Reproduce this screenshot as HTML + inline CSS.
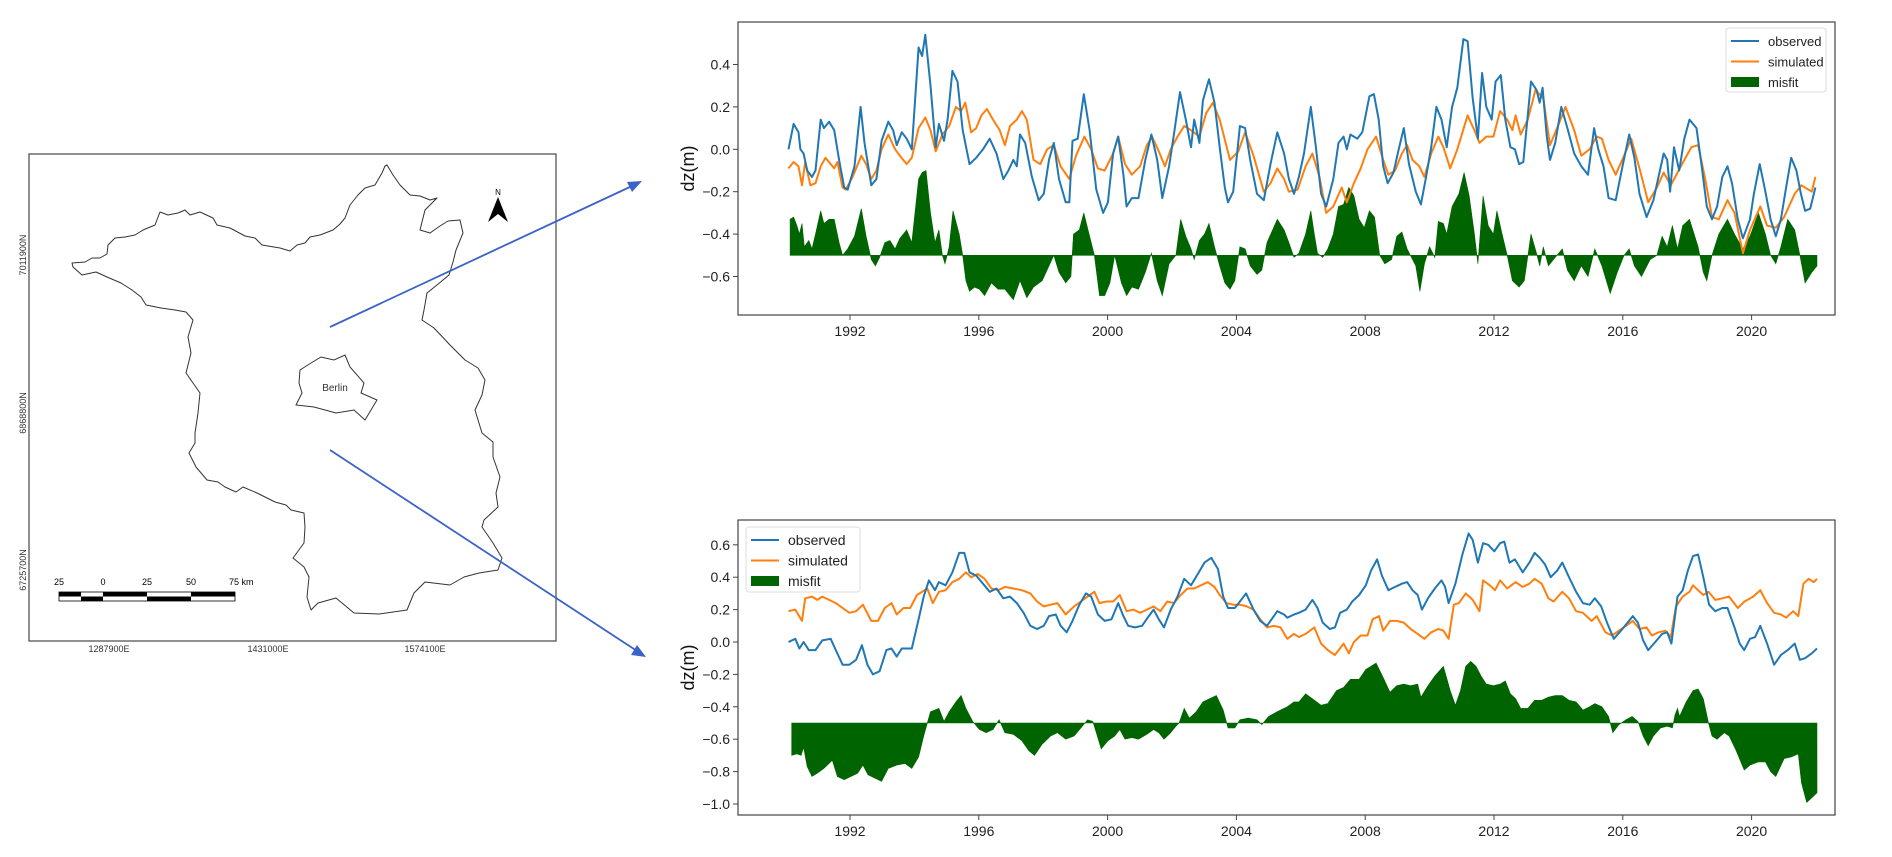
<!DOCTYPE html>
<html><head><meta charset="utf-8"><title>Brandenburg dz comparison</title>
<style>
html,body{margin:0;padding:0;background:#fff;}
svg{display:block;font-family:"Liberation Sans",sans-serif;}
</style></head>
<body>
<svg id="fig" width="1892" height="857" viewBox="0 0 1892 857" xmlns="http://www.w3.org/2000/svg">
  <rect width="1892" height="857" fill="#fff"/>
  <g>
    <rect x="29" y="154" width="527" height="487" fill="none" stroke="#555" stroke-width="1.3"/>
    <polygon fill="none" stroke="#333" stroke-width="1" stroke-linejoin="round"
      points="72,263 85,262 92,258 100,258 107,254 108,245 115,238 125,237 135,235 143,230 155,225 160,212 168,215 178,213 185,210 190,215 200,212 213,218 217,225 230,228 245,236 255,238 262,245 280,248 290,251 297,245 305,243 310,237 320,235 333,230 340,224 345,218 350,205 358,195 365,188 375,185 382,173 385,166 387,165 393,175 400,185 410,195 420,196 430,200 437,198 425,210 420,230 430,233 440,226 448,221 460,220 463,233 456,250 453,262 449,275 437,285 427,293 424,310 422,320 434,328 450,345 465,360 478,368 485,380 482,395 475,410 482,433 493,442 493,457 500,477 496,493 498,507 484,520 482,527 493,543 502,558 498,570 479,573 464,577 450,585 425,582 414,593 407,610 379,614 354,613 336,598 318,603 311,610 307,597 309,577 304,567 293,558 304,543 305,527 304,513 291,510 286,505 275,502 257,493 243,487 236,492 225,487 218,482 207,480 196,467 189,453 195,443 195,433 198,413 200,393 193,383 186,373 191,353 188,337 193,320 186,312 175,310 161,308 146,305 141,297 132,290 121,283 107,277 96,272 82,275 73,267"/>
    <polygon fill="none" stroke="#333" stroke-width="1"
      points="300,370 311,363 321,357 334,360 345,355 350,367 364,383 361,393 377,400 371,410 365,420 354,410 336,413 314,407 296,405 302,393 299,383"/>
    <text x="335" y="391" font-size="10" text-anchor="middle" fill="#333">Berlin</text>
    <g>
      <text x="498" y="195" font-size="8" text-anchor="middle" fill="#000">N</text>
      <polygon points="498,197 488,222 498,214 508,222" fill="#000"/>
    </g>
    <text transform="translate(26,255) rotate(-90)" font-size="9" text-anchor="middle" fill="#333">7011900N</text>
    <text transform="translate(26,413) rotate(-90)" font-size="9" text-anchor="middle" fill="#333">6868800N</text>
    <text transform="translate(26,570) rotate(-90)" font-size="9" text-anchor="middle" fill="#333">6725700N</text>
    <text x="109" y="652" font-size="9" text-anchor="middle" fill="#333">1287900E</text>
    <text x="268" y="652" font-size="9" text-anchor="middle" fill="#333">1431000E</text>
    <text x="425" y="652" font-size="9" text-anchor="middle" fill="#333">1574100E</text>
    <g>
      <rect x="59" y="592" width="176" height="9" fill="#fff" stroke="#000" stroke-width="0.8"/>
      <rect x="59" y="592" width="22" height="4.5" fill="#000"/>
      <rect x="81" y="596.5" width="22" height="4.5" fill="#000"/>
      <rect x="103" y="592" width="44" height="4.5" fill="#000"/>
      <rect x="147" y="596.5" width="44" height="4.5" fill="#000"/>
      <rect x="191" y="592" width="44" height="4.5" fill="#000"/>
      <text x="59" y="585" font-size="9" text-anchor="middle" fill="#000">25</text>
      <text x="103" y="585" font-size="9" text-anchor="middle" fill="#000">0</text>
      <text x="147" y="585" font-size="9" text-anchor="middle" fill="#000">25</text>
      <text x="191" y="585" font-size="9" text-anchor="middle" fill="#000">50</text>
      <text x="229" y="585" font-size="9" fill="#000">75 km</text>
    </g>
  </g>
  <g>
    <line x1="330" y1="327" x2="632" y2="186" stroke="#3a62c7" stroke-width="1.8"/>
    <polygon points="642,181 627,182 632,192" fill="#3a62c7"/>
    <line x1="330" y1="450" x2="637" y2="651" stroke="#3a62c7" stroke-width="1.8"/>
    <polygon points="646,657 637,645 631,655" fill="#3a62c7"/>
  </g>
  <g id="chartTop"></g>
  <g id="chartBot"></g>
</svg>
<script>
const topObsT = [1990.09,1990.25,1990.40,1990.46,1990.56,1990.67,1990.82,1990.93,1991.09,1991.19,1991.35,1991.51,1991.66,1991.82,1991.93,1992.14,1992.33,1992.45,1992.66,1992.82,1992.98,1993.19,1993.34,1993.45,1993.61,1993.76,1993.92,1994.13,1994.24,1994.34,1994.50,1994.66,1994.76,1994.92,1995.03,1995.18,1995.34,1995.50,1995.71,1995.92,1996.13,1996.34,1996.55,1996.76,1996.92,1997.07,1997.18,1997.28,1997.44,1997.65,1997.86,1998.02,1998.18,1998.33,1998.49,1998.70,1998.81,1998.91,1999.07,1999.26,1999.44,1999.65,1999.86,2000.01,2000.17,2000.33,2000.49,2000.59,2000.75,2000.96,2001.17,2001.36,2001.54,2001.70,2001.91,2002.06,2002.25,2002.43,2002.59,2002.69,2002.85,2002.96,2003.15,2003.32,2003.48,2003.64,2003.74,2003.90,2004.11,2004.27,2004.43,2004.64,2004.85,2005.06,2005.27,2005.48,2005.63,2005.79,2005.94,2006.10,2006.31,2006.47,2006.63,2006.79,2007.01,2007.17,2007.33,2007.43,2007.54,2007.75,2007.91,2008.13,2008.27,2008.42,2008.56,2008.70,2008.88,2009.04,2009.20,2009.36,2009.57,2009.73,2009.89,2010.05,2010.21,2010.37,2010.53,2010.70,2010.86,2011.05,2011.18,2011.34,2011.50,2011.63,2011.76,2011.93,2012.05,2012.21,2012.35,2012.51,2012.65,2012.78,2012.91,2013.15,2013.32,2013.42,2013.51,2013.64,2013.74,2013.90,2014.09,2014.28,2014.49,2014.71,2014.92,2015.11,2015.24,2015.40,2015.56,2015.78,2015.99,2016.20,2016.36,2016.52,2016.74,2016.95,2017.11,2017.27,2017.38,2017.47,2017.59,2017.75,2017.91,2018.07,2018.29,2018.45,2018.61,2018.77,2018.93,2019.09,2019.25,2019.39,2019.57,2019.73,2019.95,2020.07,2020.25,2020.43,2020.59,2020.75,2020.91,2021.07,2021.23,2021.39,2021.53,2021.66,2021.82,2021.98];
const topObsV = [0.00,0.12,0.08,0.00,-0.02,-0.10,-0.13,-0.10,0.14,0.10,0.13,0.09,-0.05,-0.18,-0.19,-0.08,0.20,0.03,-0.17,-0.14,0.04,0.13,0.09,0.02,0.08,0.05,0.00,0.48,0.44,0.54,0.30,0.01,0.12,0.04,0.14,0.37,0.32,0.09,-0.07,-0.04,0.00,0.05,-0.02,-0.14,-0.10,-0.05,-0.08,0.07,0.03,-0.13,-0.24,-0.21,-0.05,0.03,-0.14,-0.25,-0.25,0.04,0.05,0.26,0.09,-0.19,-0.30,-0.25,-0.02,0.06,-0.12,-0.27,-0.23,-0.23,-0.05,0.07,-0.05,-0.23,-0.08,0.07,0.27,0.14,0.01,0.14,0.03,0.23,0.33,0.22,0.01,-0.18,-0.25,-0.20,0.11,0.10,-0.05,-0.21,-0.24,-0.07,0.08,-0.02,-0.14,-0.21,-0.13,-0.02,0.20,0.01,-0.21,-0.27,-0.14,0.03,0.06,0.00,0.07,0.05,0.08,0.25,0.26,0.14,-0.08,-0.16,-0.11,0.00,0.10,-0.07,-0.20,-0.26,-0.13,0.01,0.20,0.14,0.01,0.20,0.29,0.52,0.51,0.24,0.05,0.36,0.20,0.14,0.32,0.35,0.14,0.01,0.00,-0.07,-0.06,0.32,0.28,0.22,0.29,0.06,-0.05,0.03,0.20,0.10,-0.02,-0.08,-0.12,0.10,0.00,-0.08,-0.23,-0.24,-0.08,0.07,-0.04,-0.21,-0.32,-0.24,-0.13,-0.02,-0.05,-0.20,0.01,-0.10,0.05,0.14,0.10,-0.08,-0.27,-0.33,-0.27,-0.13,-0.08,-0.16,-0.33,-0.42,-0.33,-0.21,-0.07,-0.20,-0.33,-0.41,-0.33,-0.18,-0.04,-0.10,-0.21,-0.29,-0.28,-0.18];
const topSimT = [1990.09,1990.25,1990.40,1990.51,1990.61,1990.77,1990.93,1991.09,1991.24,1991.40,1991.51,1991.61,1991.77,1991.87,1992.08,1992.35,1992.50,1992.66,1992.82,1992.98,1993.19,1993.40,1993.55,1993.76,1993.92,1994.13,1994.34,1994.50,1994.66,1994.87,1995.08,1995.29,1995.45,1995.58,1995.76,1995.92,1996.08,1996.25,1996.44,1996.65,1996.81,1996.97,1997.18,1997.34,1997.49,1997.70,1997.91,1998.12,1998.33,1998.54,1998.81,1999.02,1999.28,1999.49,1999.70,1999.91,2000.17,2000.33,2000.54,2000.75,2001.01,2001.22,2001.38,2001.59,2001.78,2001.96,2002.17,2002.38,2002.59,2002.85,2003.06,2003.27,2003.48,2003.80,2004.06,2004.27,2004.53,2004.85,2005.06,2005.27,2005.48,2005.63,2005.90,2006.15,2006.36,2006.58,2006.79,2007.01,2007.27,2007.43,2007.65,2007.86,2008.07,2008.34,2008.56,2008.72,2008.93,2009.14,2009.30,2009.47,2009.68,2009.84,2010.05,2010.27,2010.43,2010.64,2010.86,2011.18,2011.39,2011.55,2011.76,2011.98,2012.19,2012.41,2012.57,2012.67,2012.83,2013.05,2013.29,2013.53,2013.74,2013.96,2014.22,2014.49,2014.71,2014.97,2015.19,2015.35,2015.56,2015.78,2016.04,2016.26,2016.52,2016.79,2017.06,2017.27,2017.49,2017.70,2017.91,2018.13,2018.34,2018.56,2018.77,2018.98,2019.25,2019.47,2019.73,2019.95,2020.27,2020.48,2020.75,2021.01,2021.34,2021.55,2021.87,2021.98];
const topSimV = [-0.09,-0.06,-0.08,-0.17,-0.06,-0.17,-0.16,-0.08,-0.04,-0.07,-0.09,-0.06,-0.18,-0.19,-0.13,-0.03,-0.07,-0.14,-0.10,0.00,0.07,0.00,-0.03,-0.07,-0.04,0.10,0.15,0.09,-0.01,0.07,0.11,0.20,0.18,0.22,0.08,0.10,0.16,0.19,0.14,0.09,0.02,0.11,0.14,0.18,0.14,-0.05,-0.07,0.00,0.02,-0.08,-0.14,-0.03,0.06,0.00,-0.09,-0.10,-0.02,0.06,-0.07,-0.12,-0.08,0.02,0.06,-0.01,-0.08,0.00,0.06,0.11,0.09,0.06,0.17,0.22,0.14,-0.05,-0.01,0.08,-0.03,-0.20,-0.16,-0.09,-0.14,-0.20,-0.19,-0.08,-0.02,-0.13,-0.30,-0.27,-0.18,-0.25,-0.16,-0.09,0.00,0.06,-0.05,-0.12,-0.10,-0.02,0.02,-0.05,-0.08,-0.13,-0.02,0.06,0.01,-0.09,0.00,0.16,0.09,0.03,0.06,0.06,0.18,0.14,0.09,0.16,0.07,0.14,0.28,0.24,0.02,0.10,0.20,0.09,-0.03,0.00,0.06,0.05,-0.05,-0.12,-0.03,0.05,-0.09,-0.25,-0.18,-0.11,-0.17,-0.11,-0.05,0.01,0.02,-0.14,-0.32,-0.33,-0.24,-0.30,-0.49,-0.38,-0.27,-0.36,-0.37,-0.32,-0.21,-0.17,-0.20,-0.13];
const topMisT = [1990.14,1990.25,1990.35,1990.43,1990.51,1990.58,1990.72,1990.82,1990.93,1991.09,1991.19,1991.35,1991.51,1991.66,1991.77,1991.93,1992.14,1992.35,1992.50,1992.66,1992.79,1992.92,1993.08,1993.24,1993.40,1993.55,1993.76,1993.92,1994.13,1994.24,1994.36,1994.50,1994.64,1994.76,1994.87,1994.95,1995.08,1995.20,1995.39,1995.50,1995.60,1995.71,1995.87,1996.02,1996.18,1996.39,1996.60,1996.81,1997.07,1997.28,1997.49,1997.70,1997.97,1998.18,1998.33,1998.49,1998.70,1998.86,1998.94,1999.12,1999.26,1999.44,1999.59,1999.75,1999.91,2000.07,2000.22,2000.43,2000.59,2000.75,2000.96,2001.17,2001.36,2001.54,2001.70,2001.91,2002.12,2002.27,2002.43,2002.59,2002.69,2002.85,2003.01,2003.15,2003.32,2003.48,2003.64,2003.80,2003.95,2004.11,2004.27,2004.43,2004.64,2004.79,2004.95,2005.27,2005.48,2005.63,2005.79,2005.94,2006.15,2006.31,2006.42,2006.52,2006.68,2006.84,2007.01,2007.17,2007.33,2007.49,2007.65,2007.81,2007.97,2008.13,2008.29,2008.45,2008.61,2008.82,2008.98,2009.14,2009.30,2009.57,2009.70,2009.84,2010.00,2010.16,2010.27,2010.43,2010.53,2010.70,2010.91,2011.07,2011.23,2011.39,2011.50,2011.66,2011.82,2011.98,2012.09,2012.25,2012.41,2012.57,2012.78,2012.94,2013.15,2013.32,2013.42,2013.53,2013.69,2013.90,2014.12,2014.28,2014.49,2014.71,2014.92,2015.13,2015.35,2015.61,2015.83,2016.04,2016.20,2016.36,2016.58,2016.85,2017.06,2017.22,2017.38,2017.54,2017.70,2017.86,2018.07,2018.34,2018.50,2018.61,2018.77,2018.98,2019.25,2019.47,2019.73,2019.95,2020.21,2020.43,2020.59,2020.75,2020.91,2021.12,2021.34,2021.50,2021.66,2021.87,2022.03];
const topMisV = [-0.33,-0.32,-0.36,-0.40,-0.35,-0.46,-0.43,-0.47,-0.40,-0.29,-0.35,-0.33,-0.33,-0.44,-0.50,-0.47,-0.41,-0.28,-0.41,-0.52,-0.55,-0.51,-0.44,-0.43,-0.47,-0.42,-0.38,-0.44,-0.14,-0.11,-0.10,-0.30,-0.44,-0.38,-0.50,-0.54,-0.46,-0.29,-0.40,-0.50,-0.62,-0.67,-0.65,-0.66,-0.69,-0.63,-0.66,-0.66,-0.71,-0.62,-0.70,-0.65,-0.62,-0.55,-0.50,-0.58,-0.63,-0.60,-0.40,-0.38,-0.30,-0.41,-0.50,-0.69,-0.69,-0.63,-0.50,-0.63,-0.69,-0.65,-0.66,-0.58,-0.49,-0.62,-0.69,-0.54,-0.50,-0.33,-0.41,-0.47,-0.52,-0.43,-0.40,-0.35,-0.46,-0.55,-0.63,-0.66,-0.62,-0.46,-0.47,-0.55,-0.59,-0.57,-0.44,-0.33,-0.38,-0.44,-0.51,-0.49,-0.40,-0.29,-0.40,-0.49,-0.51,-0.47,-0.40,-0.27,-0.26,-0.18,-0.22,-0.33,-0.37,-0.29,-0.32,-0.50,-0.54,-0.52,-0.41,-0.39,-0.47,-0.55,-0.67,-0.54,-0.46,-0.51,-0.34,-0.35,-0.40,-0.27,-0.21,-0.11,-0.22,-0.40,-0.54,-0.22,-0.36,-0.40,-0.29,-0.40,-0.50,-0.62,-0.65,-0.62,-0.40,-0.49,-0.55,-0.46,-0.55,-0.51,-0.47,-0.57,-0.62,-0.55,-0.60,-0.47,-0.55,-0.68,-0.58,-0.50,-0.47,-0.55,-0.60,-0.52,-0.50,-0.41,-0.46,-0.36,-0.47,-0.36,-0.33,-0.46,-0.58,-0.62,-0.50,-0.40,-0.33,-0.40,-0.47,-0.41,-0.30,-0.40,-0.50,-0.54,-0.46,-0.33,-0.38,-0.50,-0.63,-0.58,-0.55];
const topYTicks = [0.4,0.2,0.0,-0.2,-0.4,-0.6];
const topYLabels = ["0.4","0.2","0.0","\u22120.2","\u22120.4","\u22120.6"];

const botObsT = [1990.09,1990.30,1990.43,1990.56,1990.72,1990.93,1991.14,1991.40,1991.56,1991.77,1991.98,1992.19,1992.37,1992.54,1992.71,1992.92,1993.13,1993.29,1993.45,1993.61,1993.92,1994.13,1994.29,1994.45,1994.64,1994.76,1994.97,1995.18,1995.39,1995.55,1995.71,1995.92,1996.13,1996.34,1996.55,1996.76,1996.97,1997.18,1997.39,1997.60,1997.81,1998.02,1998.18,1998.39,1998.54,1998.73,1998.91,1999.12,1999.33,1999.49,1999.70,1999.91,2000.12,2000.33,2000.49,2000.64,2000.85,2001.07,2001.28,2001.43,2001.59,2001.75,2001.96,2002.17,2002.38,2002.59,2002.80,2003.01,2003.22,2003.43,2003.59,2003.74,2003.95,2004.11,2004.30,2004.53,2004.74,2004.95,2005.27,2005.48,2005.58,2005.79,2005.94,2006.15,2006.36,2006.52,2006.68,2006.90,2007.06,2007.22,2007.43,2007.60,2007.81,2008.02,2008.18,2008.37,2008.52,2008.72,2008.93,2009.14,2009.30,2009.47,2009.63,2009.76,2009.95,2010.16,2010.37,2010.48,2010.59,2010.80,2011.02,2011.21,2011.34,2011.50,2011.66,2011.82,2012.01,2012.19,2012.32,2012.48,2012.65,2012.89,2013.10,2013.26,2013.42,2013.58,2013.76,2013.96,2014.12,2014.33,2014.55,2014.76,2014.97,2015.13,2015.33,2015.51,2015.72,2015.94,2016.15,2016.31,2016.47,2016.63,2016.79,2017.01,2017.22,2017.38,2017.51,2017.70,2017.86,2018.02,2018.18,2018.34,2018.50,2018.68,2018.87,2019.09,2019.25,2019.47,2019.63,2019.77,2019.95,2020.11,2020.27,2020.48,2020.70,2020.91,2021.12,2021.34,2021.50,2021.66,2021.87,2022.03];
const botObsV = [0.00,0.02,-0.04,0.00,-0.05,-0.05,0.01,0.02,-0.05,-0.14,-0.14,-0.11,-0.02,-0.14,-0.20,-0.18,-0.05,-0.04,-0.09,-0.04,-0.04,0.14,0.28,0.38,0.32,0.37,0.35,0.43,0.55,0.55,0.43,0.41,0.36,0.31,0.33,0.27,0.28,0.24,0.18,0.10,0.08,0.10,0.16,0.17,0.10,0.06,0.13,0.23,0.30,0.28,0.17,0.13,0.14,0.24,0.16,0.10,0.09,0.10,0.16,0.20,0.14,0.09,0.20,0.28,0.39,0.35,0.42,0.49,0.52,0.45,0.28,0.21,0.21,0.25,0.30,0.20,0.13,0.10,0.19,0.17,0.15,0.17,0.18,0.20,0.26,0.21,0.12,0.08,0.09,0.18,0.20,0.25,0.29,0.35,0.44,0.51,0.41,0.32,0.34,0.36,0.37,0.32,0.29,0.20,0.27,0.33,0.38,0.34,0.24,0.36,0.54,0.67,0.63,0.49,0.61,0.60,0.56,0.61,0.62,0.49,0.51,0.43,0.49,0.55,0.52,0.48,0.40,0.44,0.49,0.40,0.31,0.24,0.23,0.27,0.22,0.12,0.02,0.07,0.12,0.16,0.12,0.01,-0.05,0.00,0.05,0.06,-0.01,0.28,0.32,0.44,0.53,0.54,0.40,0.23,0.19,0.21,0.21,0.09,-0.01,-0.05,0.02,0.03,0.10,-0.01,-0.14,-0.08,-0.05,-0.01,-0.11,-0.10,-0.07,-0.04];
const botSimT = [1990.09,1990.30,1990.51,1990.61,1990.82,1990.98,1991.14,1991.35,1991.56,1991.77,1991.98,1992.19,1992.40,1992.66,1992.87,1993.08,1993.29,1993.45,1993.66,1993.87,1994.08,1994.24,1994.40,1994.57,1994.76,1994.97,1995.18,1995.39,1995.60,1995.76,1995.97,1996.18,1996.39,1996.60,1996.81,1997.07,1997.34,1997.60,1997.81,1998.02,1998.23,1998.44,1998.70,1998.96,1999.17,1999.38,1999.59,1999.75,1999.96,2000.17,2000.38,2000.59,2000.80,2001.01,2001.22,2001.43,2001.64,2001.85,2002.06,2002.27,2002.48,2002.69,2002.90,2003.11,2003.32,2003.48,2003.69,2003.90,2004.11,2004.32,2004.53,2004.74,2004.95,2005.16,2005.37,2005.58,2005.79,2005.94,2006.15,2006.42,2006.63,2006.84,2007.06,2007.33,2007.49,2007.65,2007.86,2008.07,2008.23,2008.43,2008.56,2008.77,2008.98,2009.20,2009.41,2009.63,2009.84,2010.05,2010.27,2010.43,2010.59,2010.75,2010.91,2011.12,2011.34,2011.55,2011.66,2011.87,2012.03,2012.19,2012.41,2012.67,2012.89,2013.10,2013.26,2013.48,2013.69,2013.85,2014.12,2014.33,2014.55,2014.76,2015.03,2015.19,2015.46,2015.67,2015.88,2016.10,2016.31,2016.52,2016.74,2016.90,2017.11,2017.33,2017.49,2017.65,2017.86,2018.07,2018.18,2018.34,2018.50,2018.66,2018.87,2019.09,2019.30,2019.57,2019.78,2020.05,2020.27,2020.48,2020.70,2020.91,2021.07,2021.29,2021.45,2021.61,2021.77,2021.93,2022.03];
const botSimV = [0.19,0.20,0.13,0.27,0.28,0.26,0.28,0.26,0.24,0.21,0.18,0.19,0.23,0.13,0.13,0.21,0.24,0.17,0.21,0.21,0.29,0.31,0.33,0.24,0.31,0.32,0.37,0.39,0.43,0.40,0.42,0.39,0.33,0.32,0.34,0.33,0.32,0.30,0.25,0.22,0.23,0.24,0.17,0.22,0.25,0.28,0.31,0.24,0.25,0.25,0.29,0.19,0.20,0.18,0.20,0.22,0.19,0.25,0.24,0.29,0.33,0.33,0.35,0.37,0.34,0.29,0.24,0.23,0.23,0.22,0.20,0.14,0.09,0.10,0.09,0.02,0.05,0.03,0.05,0.09,-0.01,-0.05,-0.08,-0.01,-0.07,0.00,0.04,0.04,0.14,0.16,0.07,0.13,0.13,0.12,0.08,0.05,0.02,0.06,0.08,0.07,0.02,0.23,0.24,0.30,0.26,0.19,0.38,0.35,0.32,0.38,0.33,0.37,0.34,0.36,0.39,0.36,0.27,0.25,0.31,0.27,0.19,0.18,0.13,0.16,0.06,0.04,0.07,0.10,0.13,0.08,0.09,0.04,0.06,0.07,0.03,0.22,0.28,0.31,0.35,0.32,0.29,0.31,0.26,0.27,0.28,0.21,0.25,0.28,0.32,0.24,0.18,0.17,0.15,0.19,0.16,0.36,0.39,0.37,0.39];
const botMisT = [1990.19,1990.35,1990.48,1990.56,1990.67,1990.82,1990.98,1991.19,1991.45,1991.61,1991.82,1992.03,1992.24,1992.40,1992.56,1992.77,1992.98,1993.19,1993.45,1993.71,1993.92,1994.13,1994.29,1994.40,1994.50,1994.76,1994.92,1995.08,1995.29,1995.45,1995.60,1995.81,1996.02,1996.23,1996.44,1996.63,1996.81,1997.07,1997.34,1997.55,1997.73,1997.97,1998.23,1998.44,1998.70,1998.96,1999.17,1999.38,1999.54,1999.65,1999.80,2000.01,2000.22,2000.38,2000.54,2000.75,2000.96,2001.22,2001.43,2001.59,2001.75,2001.96,2002.12,2002.22,2002.38,2002.54,2002.75,2002.96,2003.17,2003.38,2003.59,2003.74,2003.95,2004.11,2004.37,2004.64,2004.79,2005.00,2005.27,2005.58,2005.79,2005.94,2006.15,2006.36,2006.63,2006.84,2007.11,2007.33,2007.54,2007.81,2008.02,2008.18,2008.34,2008.56,2008.77,2008.98,2009.20,2009.41,2009.63,2009.73,2009.95,2010.16,2010.43,2010.64,2010.80,2010.96,2011.12,2011.28,2011.44,2011.60,2011.76,2011.98,2012.19,2012.35,2012.51,2012.67,2012.83,2013.05,2013.26,2013.48,2013.69,2013.90,2014.12,2014.33,2014.55,2014.76,2014.97,2015.13,2015.35,2015.56,2015.69,2015.88,2016.10,2016.29,2016.47,2016.63,2016.79,2016.95,2017.17,2017.38,2017.54,2017.62,2017.70,2017.76,2017.97,2018.18,2018.34,2018.50,2018.66,2018.77,2018.93,2019.15,2019.30,2019.52,2019.77,2019.95,2020.21,2020.43,2020.59,2020.75,2021.01,2021.23,2021.45,2021.55,2021.71,2021.93,2022.03];
const botMisV = [-0.70,-0.69,-0.70,-0.65,-0.77,-0.83,-0.81,-0.78,-0.73,-0.83,-0.85,-0.83,-0.81,-0.76,-0.82,-0.84,-0.86,-0.78,-0.76,-0.75,-0.78,-0.71,-0.58,-0.50,-0.43,-0.41,-0.49,-0.43,-0.37,-0.33,-0.41,-0.49,-0.54,-0.56,-0.54,-0.48,-0.56,-0.57,-0.61,-0.67,-0.70,-0.63,-0.58,-0.56,-0.60,-0.58,-0.53,-0.48,-0.49,-0.56,-0.66,-0.61,-0.58,-0.54,-0.60,-0.59,-0.60,-0.57,-0.54,-0.56,-0.60,-0.56,-0.52,-0.50,-0.41,-0.47,-0.43,-0.37,-0.35,-0.33,-0.42,-0.53,-0.53,-0.48,-0.47,-0.48,-0.51,-0.46,-0.43,-0.40,-0.37,-0.37,-0.32,-0.35,-0.39,-0.38,-0.30,-0.28,-0.23,-0.23,-0.17,-0.15,-0.13,-0.22,-0.31,-0.27,-0.26,-0.27,-0.26,-0.34,-0.27,-0.21,-0.15,-0.30,-0.39,-0.30,-0.15,-0.12,-0.15,-0.21,-0.26,-0.27,-0.26,-0.24,-0.32,-0.35,-0.41,-0.41,-0.36,-0.36,-0.34,-0.33,-0.33,-0.36,-0.37,-0.42,-0.40,-0.38,-0.40,-0.46,-0.56,-0.51,-0.48,-0.46,-0.49,-0.58,-0.64,-0.58,-0.53,-0.52,-0.53,-0.45,-0.41,-0.46,-0.37,-0.30,-0.29,-0.35,-0.50,-0.58,-0.60,-0.56,-0.58,-0.67,-0.79,-0.76,-0.74,-0.74,-0.80,-0.83,-0.72,-0.71,-0.69,-0.87,-0.99,-0.95,-0.93];
const botYTicks = [0.6,0.4,0.2,0.0,-0.2,-0.4,-0.6,-0.8,-1.0];
const botYLabels = ["0.6","0.4","0.2","0.0","\u22120.2","\u22120.4","\u22120.6","\u22120.8","\u22121.0"];

const xTickYears = [1992,1996,2000,2004,2008,2012,2016,2020];
const misfitBase = -0.5;

const NS = 'http://www.w3.org/2000/svg';
function mk(tag, attrs, parent){
  const e = document.createElementNS(NS, tag);
  for (const k in attrs) e.setAttribute(k, attrs[k]);
  parent.appendChild(e);
  return e;
}
const xScale = yr => 850 + (yr - 1992) * 32.2;

function drawChart(g, cfg){
  const yScale = cfg.yScale;
  const frame = mk('rect', {x:cfg.left, y:cfg.top, width:cfg.right-cfg.left, height:cfg.bottom-cfg.top, fill:'none', stroke:'#444', 'stroke-width':1.2}, g);
  
  
  let d = 'M' + xScale(cfg.misT[0]) + ',' + yScale(misfitBase);
  for (let i = 0; i < cfg.misT.length; i++) d += 'L' + xScale(cfg.misT[i]).toFixed(1) + ',' + yScale(cfg.misV[i]).toFixed(1);
  d += 'L' + xScale(cfg.misT[cfg.misT.length-1]) + ',' + yScale(misfitBase) + 'Z';
  const area = mk('path', {d:d, fill:'#006400', stroke:'#006400', 'stroke-width':0.6}, g);
  
  
  function line(ts, vs, color, name){
    let p = '';
    for (let i = 0; i < ts.length; i++) p += (i ? 'L' : 'M') + xScale(ts[i]).toFixed(1) + ',' + yScale(vs[i]).toFixed(1);
    const el = mk('path', {d:p, fill:'none', stroke:color, 'stroke-width':2, 'stroke-linejoin':'round'}, g);
    
    
  }
  line(cfg.simT, cfg.simV, '#ff7f0e', 'simulated-line');
  line(cfg.obsT, cfg.obsV, '#1f77b4', 'observed-line');
  cfg.yTicks.forEach((v, i) => {
    const y = yScale(v);
    const t = mk('line', {x1:cfg.left-5, x2:cfg.left, y1:y, y2:y, stroke:'#444', 'stroke-width':1}, g);
    
    
    const lb = mk('text', {x:cfg.left-8, y:y+5, 'font-size':14, 'text-anchor':'end', fill:'#222'}, g);
    lb.textContent = cfg.yLabels[i];
    
    
  });
  xTickYears.forEach(yr => {
    const x = xScale(yr);
    const t = mk('line', {x1:x, x2:x, y1:cfg.bottom, y2:cfg.bottom+5, stroke:'#444', 'stroke-width':1}, g);
    
    
    const lb = mk('text', {x:x, y:cfg.bottom+21, 'font-size':14, 'text-anchor':'middle', fill:'#222'}, g);
    lb.textContent = String(yr);
    
    
  });
  const yt = mk('text', {transform:'translate(' + (cfg.left-44) + ',' + ((cfg.top+cfg.bottom)/2) + ') rotate(-90)', 'font-size':18, 'text-anchor':'middle', fill:'#111'}, g);
  yt.textContent = 'dz(m)';
  
  
  const L = cfg.legend;
  const lg = mk('g', {}, g);
  
  
  mk('rect', {x:L.x, y:L.y, width:L.w, height:L.h, rx:3, fill:'#fff', 'fill-opacity':0.85, stroke:'#ddd', 'stroke-width':1}, lg);
  const entries = [['observed','#1f77b4','line'],['simulated','#ff7f0e','line'],['misfit','#006400','patch']];
  entries.forEach((en, i) => {
    const cy = L.y + 13 + i * 20.5;
    const eg = mk('g', {}, lg);
    
    
    if (en[2] === 'line') mk('line', {x1:L.x+5, x2:L.x+33, y1:cy, y2:cy, stroke:en[1], 'stroke-width':2}, eg);
    else mk('rect', {x:L.x+5, y:cy-5, width:28, height:10, fill:en[1]}, eg);
    const tx = mk('text', {x:L.x+42, y:cy+5, 'font-size':L.fs, fill:'#222'}, eg);
    tx.textContent = en[0];
  });
}

drawChart(document.getElementById('chartTop'), {
  left:738, right:1835, top:22, bottom:315,
  yScale: v => 149.3 - v * 212,
  obsT:topObsT, obsV:topObsV, simT:topSimT, simV:topSimV, misT:topMisT, misV:topMisV,
  yTicks:topYTicks, yLabels:topYLabels,
  legend:{x:1726, y:28, w:100, h:64, fs:13}
});
drawChart(document.getElementById('chartBot'), {
  left:738, right:1835, top:520, bottom:815,
  yScale: v => 642 - v * 162,
  obsT:botObsT, obsV:botObsV, simT:botSimT, simV:botSimV, misT:botMisT, misV:botMisV,
  yTicks:botYTicks, yLabels:botYLabels,
  legend:{x:746, y:527, w:114, h:65, fs:14}
});
</script>
</body></html>
